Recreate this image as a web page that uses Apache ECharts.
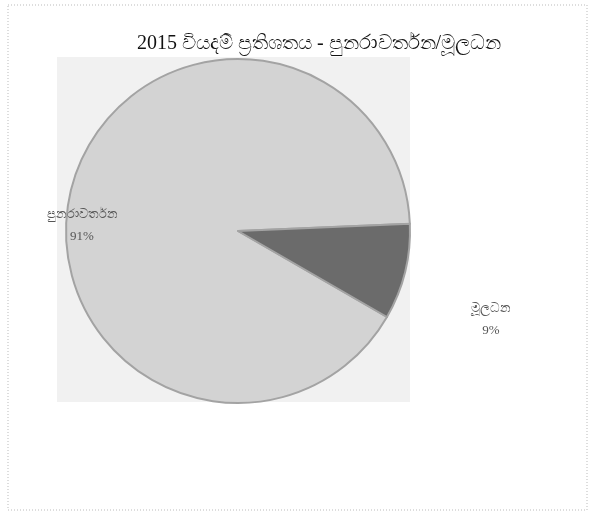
<!DOCTYPE html>
<html>
<head>
<meta charset="utf-8">
<script src="https://cdn.jsdelivr.net/npm/echarts@6/dist/echarts.min.js"></script>
<style>
html,body{margin:0;padding:0;background:#fff;}
#c{width:591px;height:512px;}
</style>
</head>
<body>
<div id="c"></div>
<script>
const titleText = '2015 වියදම් ප්‍රතිශතය - පුනරාවර්තන/මූලධන';
const categories = ['පුනරාවර්තන', 'මූලධන'];
const values = [91, 9];
const colors = ['#d3d3d3', '#6b6b6b'];
const labelPos = [[82, 226], [491, 320]];

const chart = echarts.init(document.getElementById('c'));
chart.setOption({
  backgroundColor: '#ffffff',
  animation: false,
  title: {
    text: titleText,
    left: 314,
    top: 29,
    textAlign: 'center',
    textStyle: { fontFamily: 'Liberation Serif, Noto Sans, serif', fontSize: 20, fontWeight: 'normal', color: '#111' }
  },
  graphic: [
    { type: 'rect', shape: { x: 8, y: 5, width: 579, height: 505 }, style: { fill: 'none', stroke: '#bbb', lineWidth: 1, lineDash: [1, 2] }, z: -10 },
    { type: 'rect', shape: { x: 57, y: 57, width: 353, height: 345 }, style: { fill: '#f1f1f1', stroke: 'none' }, z: -5 }
  ],
  series: [{
    type: 'pie',
    center: [238, 231],
    radius: 172,
    startAngle: -30,
    clockwise: true,
    itemStyle: { borderColor: '#a3a3a3', borderWidth: 2 },
    label: {
      show: true,
      position: 'outside',
      alignTo: 'none',
      overflow: 'none',
      width: 200,
      formatter: '{b}\n{d}%',
      fontFamily: 'Liberation Serif, Noto Sans, serif',
      fontSize: 13,
      lineHeight: 22,
      color: '#555',
      align: 'center'
    },
    labelLine: { show: false },
    labelLayout: function (p) {
      return { x: labelPos[p.dataIndex][0], y: labelPos[p.dataIndex][1], align: 'center', verticalAlign: 'middle' };
    },
    emphasis: { disabled: true },
    data: categories.map((c, i) => ({ name: c, value: values[i], itemStyle: { color: colors[i] } }))
  }]
});
</script>
</body>
</html>
